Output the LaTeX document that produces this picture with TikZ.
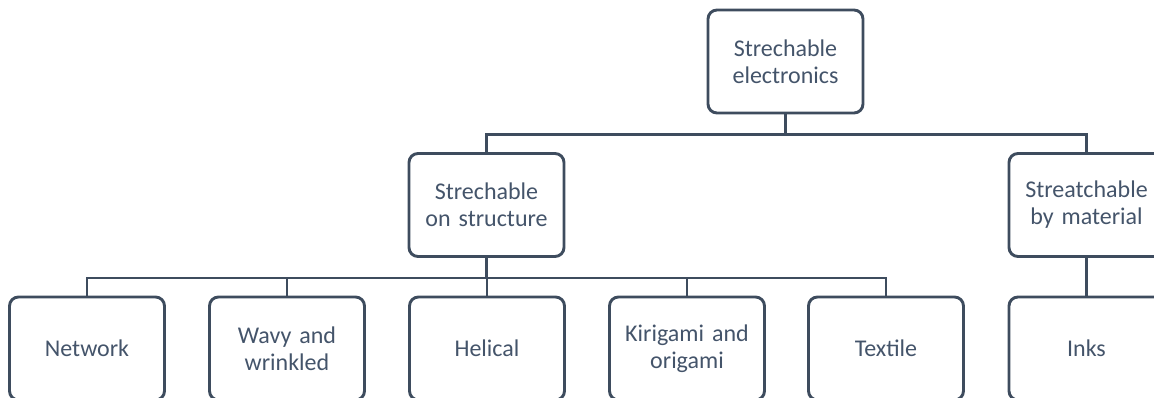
\documentclass[tikz,border=0pt]{standalone}
\usepackage{fontspec}
\setmainfont{Carlito}
\definecolor{lc}{HTML}{3E4C5E}
\definecolor{tc}{HTML}{44546A}
\begin{document}
\begin{tikzpicture}[x=1pt,y=-1pt,
  box/.style={draw=lc, line width=2.9pt, rounded corners=9pt, minimum width=155pt, minimum height=103pt, inner sep=0pt, text width=150pt, align=center, text=tc, font=\fontsize{24}{27}\selectfont},
  conn/.style={draw=lc, line width=2.9pt}]
\useasboundingbox (0,0) rectangle (1154,397);
\clip (0,0) rectangle (1154,397);
\node[box] (root) at (785.5,61.5) {Strechable\\electronics};
\node[box] (str) at (486.5,205) {Strechable\\on structure};
\node[box] (mat) at (1086.5,205) {Streatchable\\by material};
\node[box] (net) at (87,348.5) {Network};
\node[box] (wavy) at (287,348.5) {Wavy and\\wrinkled};
\node[box] (hel) at (487,348.5) {Helical};
\node[box] (kir) at (687,348.5) {Kirigami and\\origami};
\node[box] (tex) at (886,348.5) {Textile};
\node[box] (ink) at (1086.5,348.5) {Inks};
\draw[conn] (root.south) -- ++(0,20) -| (str.north);
\draw[conn] (root.south) -- ++(0,20) -| (mat.north);
\foreach \c in {net,wavy,hel,kir,tex}
  \draw[conn] (str.south) -- ++(0,20) -| (\c.north);
\draw[conn] (mat.south) -- (ink.north);
\end{tikzpicture}
\end{document}
